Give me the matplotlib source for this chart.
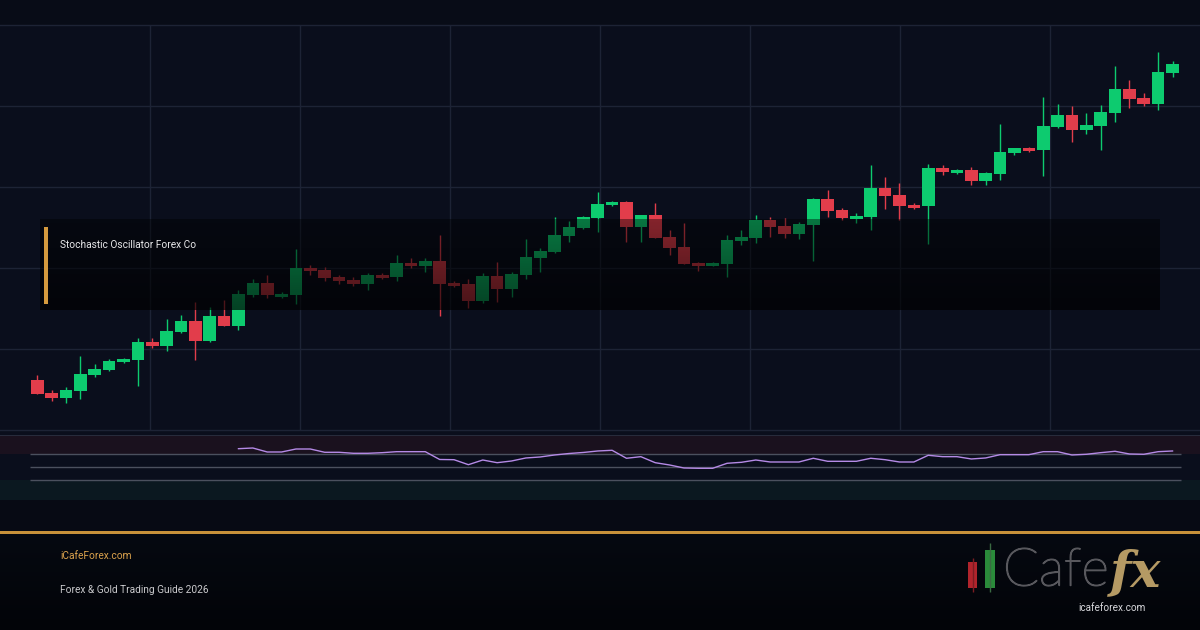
import numpy as np
import matplotlib
matplotlib.use('Agg')
import matplotlib.pyplot as plt
import matplotlib.patheffects as pe
from matplotlib.patches import Rectangle

# Datos de velas (OHLC)
opens = [105.0, 103.73, 103.23, 103.93, 105.5, 106.0, 106.8, 107.0, 108.8, 108.4,
         109.8, 110.9, 108.9, 111.4, 110.4, 113.53, 114.7, 113.33, 113.5, 116.2,
         116.0, 115.33, 115.0, 114.63, 115.5, 115.33, 116.7, 116.43, 116.9, 114.7,
         114.6, 112.93, 115.4, 114.13, 115.53, 117.23, 117.83, 119.43, 120.2, 121.2,
         122.53, 122.8, 120.33, 121.5, 119.3, 118.3, 116.7, 116.43, 116.63, 118.93,
         119.23, 121.0, 120.4, 119.63, 120.5, 123.1, 122.0, 121.1, 121.3, 124.2,
         123.5, 122.5, 122.4, 126.2, 125.7, 126.0, 124.9, 125.6, 127.7, 128.2,
         128.0, 130.3, 131.5, 130.0, 130.4, 131.7, 134.1, 133.2, 132.6, 135.7]
highs = [105.5, 104.0, 104.33, 107.4, 106.6, 107.07, 107.23, 109.2, 109.2, 111.1,
         111.5, 112.83, 112.3, 113.0, 114.0, 115.1, 115.5, 113.8, 118.13, 116.5,
         116.33, 115.5, 115.33, 115.67, 115.73, 117.5, 117.17, 117.23, 119.53, 114.93,
         115.1, 115.73, 116.8, 115.83, 119.13, 118.17, 121.3, 120.9, 121.43, 123.8,
         122.9, 122.9, 121.5, 122.73, 120.0, 120.7, 116.83, 116.77, 119.5, 120.0,
         121.5, 121.3, 121.2, 120.83, 123.2, 124.0, 122.2, 121.7, 126.5, 125.3,
         124.7, 122.7, 126.6, 126.5, 126.1, 126.3, 125.8, 130.6, 128.2, 128.33,
         133.3, 132.6, 132.4, 131.7, 132.5, 136.4, 135.0, 133.7, 137.8, 136.9]
lows = [103.6, 102.93, 102.73, 103.13, 105.33, 105.93, 106.73, 104.4, 108.2, 107.93,
        109.73, 107.0, 108.8, 110.4, 110.0, 113.33, 113.23, 113.23, 112.6, 115.53,
        114.93, 114.6, 114.4, 114.03, 115.13, 114.93, 116.23, 115.83, 111.43, 114.27,
        112.23, 112.73, 112.8, 113.33, 115.07, 115.83, 117.67, 118.83, 120.13, 119.83,
        122.43, 118.83, 118.83, 119.23, 117.53, 116.57, 115.93, 116.37, 115.33, 118.5,
        118.73, 119.33, 119.23, 119.1, 116.93, 121.33, 121.0, 120.73, 120.0, 122.1,
        121.0, 122.13, 118.63, 125.5, 125.6, 124.5, 124.5, 125.0, 127.53, 127.83,
        125.4, 130.2, 128.8, 129.6, 128.0, 130.8, 132.2, 132.4, 132.0, 135.3]
closes = [103.6, 103.23, 104.0, 105.6, 106.1, 106.9, 107.1, 108.8, 108.4, 109.9,
          110.9, 108.9, 111.4, 110.4, 113.6, 114.7, 113.5, 113.63, 116.2, 115.93,
          115.23, 114.93, 114.6, 115.5, 115.23, 116.7, 116.43, 116.9, 114.63, 114.43,
          112.93, 115.4, 114.13, 115.6, 117.3, 117.9, 119.5, 120.3, 121.3, 122.6,
          122.8, 120.33, 121.5, 119.23, 118.23, 116.63, 116.43, 116.7, 119.0, 119.3,
          121.0, 120.33, 119.63, 120.6, 123.1, 121.93, 121.2, 121.4, 124.2, 123.4,
          122.4, 122.2, 126.2, 125.8, 126.0, 124.9, 125.7, 127.8, 128.2, 127.9,
          130.4, 131.5, 130.0, 130.5, 131.8, 134.1, 133.1, 132.6, 135.8, 136.6]

# Oscilador estocastico (desde la vela 14)
stoch_start = 14
stoch = [92.9, 94.5, 85.3, 85.3, 92.2, 92.2, 84.6, 84.6, 82.3, 82.3,
         83.7, 86.0, 86.0, 86.0, 68.0, 67.5, 56.0, 66.8, 60.6, 64.5,
         71.5, 73.8, 78.4, 81.8, 84.2, 87.6, 89.2, 70.8, 74.5, 60.6,
         55.3, 48.4, 47.7, 47.7, 59.2, 61.5, 66.8, 62.2, 62.2, 62.2,
         70.8, 63.8, 63.8, 63.8, 70.8, 67.5, 62.2, 62.2, 77.7, 74.5,
         74.5, 69.2, 71.5, 79.1, 79.1, 79.1, 86.0, 86.0, 78.4, 80.0,
         83.7, 86.9, 80.7, 80.0, 86.0, 87.6]
niveles = [80, 50, 20]

titulo = 'Stochastic Oscillator Forex Co'
sitio = 'iCafeForex.com'
subtitulo = 'Forex & Gold Trading Guide 2026'

# colores
bg = '#0a0e1c'
verde = '#0dcb6f'
rojo = '#e23d4b'
rejilla = '#1d2335'
naranja = '#d59a3e'

W, H = 1200, 630
paso = 14.37   # px por vela
x0 = 37.3      # px de la primera vela
xlim = (-x0 / paso, (W - x0) / paso)

fig = plt.figure(figsize=(12, 6.3), dpi=100, facecolor=bg)

# fondo general en pixeles
fondo = fig.add_axes([0, 0, 1, 1], zorder=0)
fondo.axis('off')
fondo.add_patch(Rectangle((0, 0), W, 25, color='#080c17', lw=0))
fondo.add_patch(Rectangle((0, 500), W, 31, color='#070a14', lw=0))
grad = np.linspace(0, 1, 100)[:, None]
cm_pie = matplotlib.colors.LinearSegmentedColormap.from_list('pie', ['#060911', '#020408'])
fondo.imshow(grad, extent=[0, W, 630, 533], cmap=cm_pie, aspect='auto', zorder=1)
fondo.add_patch(Rectangle((0, 530.5), W, 3, color='#c8913a', lw=0, zorder=2))
fondo.set_xlim(0, W)
fondo.set_ylim(H, 0)

# grafico de velas
ax = fig.add_axes([0, 200 / H, 1, 405 / H], zorder=1)
ax.set_facecolor(bg)
ax.set_xlim(*xlim)
ax.set_ylim(100, 140.5)
for s in ax.spines.values():
    s.set_visible(False)
ax.set_xticks([])
ax.set_yticks([])
for k in range(6):
    ax.axhline(100 + k * 8.1, color=rejilla, lw=1, zorder=1, clip_on=False)
for k in range(1, 8):
    ax.axvline(xlim[0] + k * 150 / paso, color=rejilla, lw=1, zorder=1)

idx = np.arange(len(opens))
o = np.array(opens)
c = np.array(closes)
colores = [verde if cc >= oo else rojo for oo, cc in zip(o, c)]
ax.vlines(idx, lows, highs, colors=colores, lw=1, zorder=2)
ax.bar(idx, np.maximum(np.abs(c - o), 0.15), bottom=np.minimum(o, c), width=0.88,
       color=colores, lw=0, zorder=3)

# oscilador
osc = fig.add_axes([0, 130 / H, 1, 65 / H], zorder=1)
osc.set_facecolor(bg)
osc.set_xlim(*xlim)
osc.set_ylim(-25.5, 124.5)
for s in osc.spines.values():
    s.set_visible(False)
osc.set_xticks([])
osc.set_yticks([])
osc.axhspan(80, 124.5, color='#1a111e', lw=0, zorder=0)
osc.axhspan(-25.5, 20, color='#0b1820', lw=0, zorder=0)
osc.axhline(124.5, color='#2a3142', lw=1.2, zorder=1)
osc.hlines(niveles, (30 - x0) / paso, (1181 - x0) / paso, colors='#4b505e', lw=1, zorder=1)
osc.plot(np.arange(stoch_start, stoch_start + len(stoch)), stoch, color='#b58ae6', lw=1.0, zorder=2)

# capa superior: recuadro del titulo y pie
top = fig.add_axes([0, 0, 1, 1], zorder=5)
top.patch.set_alpha(0)
top.axis('off')
alfa = np.zeros((100, 1, 4))
alfa[:, 0, 3] = np.linspace(0.42, 0.68, 100)
top.imshow(alfa, extent=[40, 1160, 310, 219], aspect='auto', interpolation='bilinear')
top.set_xlim(0, W)
top.set_ylim(H, 0)
top.add_patch(Rectangle((44, 227), 3.5, 77, color=naranja, lw=0))
top.text(60, 245, titulo, color='#e8e8ea', fontsize=7.3, family='Roboto', va='center', ha='left')

top.text(60, 556, sitio, color='#dba24c', fontsize=7.3, family='Roboto', va='center', ha='left')
top.text(60, 590, subtitulo, color='#c9c9cc', fontsize=7.3, family='Roboto', va='center', ha='left')

# logo
top.vlines(972.5, 558, 592, color='#7a1c22', lw=1)
top.add_patch(Rectangle((968, 562), 9, 26, color='#b0242c', lw=0))
top.vlines(990, 543, 592, color='#3a6a42', lw=1)
top.add_patch(Rectangle((985, 550), 10, 38, color='#2a8a3a', lw=0))
cafe = top.text(1003, 571, 'Cafe', color='#58585d', fontsize=38, family='Lato', fontweight='light',
                va='center', ha='left',
                path_effects=[pe.withStroke(linewidth=1.0, foreground='#58585d')])
# colocar "fx" justo tras "Cafe"
fig.canvas.draw()
fin_cafe = top.transData.inverted().transform((cafe.get_window_extent().x1, 0))[0]
top.text(fin_cafe + 1, 586, 'fx', color='#b59a64', fontsize=36, family='DejaVu Serif', fontweight='bold',
         style='italic', va='baseline', ha='left')
top.text(1112, 608, 'icafeforex.com', color='#d8d8dc', fontsize=7.2, family='Roboto',
         va='center', ha='center')

fig.savefig('out.png', dpi=100, facecolor=bg)
